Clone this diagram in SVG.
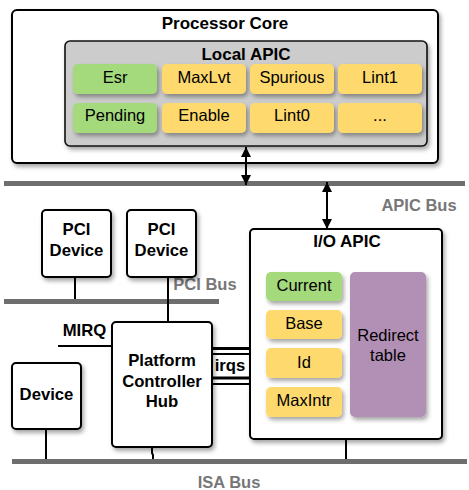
<svg xmlns="http://www.w3.org/2000/svg" width="469" height="490" viewBox="0 0 469 490">
<defs>
<filter id="sh" x="-20%" y="-20%" width="150%" height="150%">
<feDropShadow dx="2" dy="3" stdDeviation="2.2" flood-color="#000" flood-opacity="0.35"/>
</filter>
<marker id="ah" viewBox="0 0 10 10" refX="10" refY="5" markerWidth="10" markerHeight="10" markerUnits="userSpaceOnUse" orient="auto-start-reverse">
<path d="M0,0 L10,5 L0,10 z" fill="#000"/>
</marker>
</defs>
<style>
text{font-family:"Liberation Sans",Arial,sans-serif;text-anchor:middle;fill:#000}
.t{font-weight:bold;font-size:17px}
.b{font-weight:bold;font-size:16.7px}
.r{font-size:16.5px}
.g{font-weight:bold;font-size:16.5px;fill:#777}
.box{fill:#fff;stroke:#000;stroke-width:2;filter:url(#sh)}
.grn{fill:#a4d97b;filter:url(#sh)}
.yel{fill:#fdd96e;filter:url(#sh)}
.bus{fill:#6e6e6e}
.w{stroke:#000;stroke-width:2;fill:none}
</style>

<g id="buses">
<rect class="bus" x="4" y="181" width="461" height="5"/>
<rect class="bus" x="4" y="299" width="215" height="5"/>
<rect class="bus" x="12" y="459" width="455" height="5"/>
<text class="g" x="419" y="211">APIC Bus</text>
<text class="g" x="205" y="290">PCI Bus</text>
<text class="g" x="229" y="488">ISA Bus</text>
</g>

<g id="processor-core">
<rect class="box" x="12" y="10" width="426" height="153" rx="5"/>
<text class="t" x="225" y="29">Processor Core</text>
</g>

<g id="local-apic">
<rect x="65" y="41" width="362" height="105" rx="5" fill="#cccccc" stroke="#111" stroke-width="1.6" filter="url(#sh)"/>
<text class="t" x="246" y="60">Local APIC</text>
<rect class="grn" x="73" y="64" width="84" height="30" rx="5"/>
<rect class="yel" x="162" y="64" width="84" height="30" rx="5"/>
<rect class="yel" x="250" y="64" width="84" height="30" rx="5"/>
<rect class="yel" x="338" y="64" width="84" height="30" rx="5"/>
<rect class="grn" x="73" y="103" width="84" height="30" rx="5"/>
<rect class="yel" x="162" y="103" width="84" height="30" rx="5"/>
<rect class="yel" x="250" y="103" width="84" height="30" rx="5"/>
<rect class="yel" x="338" y="103" width="84" height="30" rx="5"/>
<text class="r" x="115" y="83">Esr</text>
<text class="r" x="204" y="83">MaxLvt</text>
<text class="r" x="292" y="83">Spurious</text>
<text class="r" x="380" y="83">Lint1</text>
<text class="r" x="115" y="121">Pending</text>
<text class="r" x="204" y="121">Enable</text>
<text class="r" x="292" y="121">Lint0</text>
<text class="r" x="380" y="121">...</text>
</g>

<g id="pci-device-1">
<rect class="box" x="42" y="210" width="69" height="67" rx="4"/>
<text class="b" x="76.5" y="235">PCI</text>
<text class="b" x="76.5" y="256">Device</text>
</g>

<g id="pci-device-2">
<rect class="box" x="127" y="210" width="69" height="67" rx="4"/>
<text class="b" x="161.5" y="235">PCI</text>
<text class="b" x="161.5" y="256">Device</text>
</g>

<g id="device">
<rect class="box" x="12" y="363" width="69" height="66" rx="4"/>
<text class="b" x="46.5" y="400">Device</text>
</g>

<g id="pch">
<rect class="box" x="112" y="322" width="100" height="125" rx="4"/>
<text class="b" x="162" y="366">Platform</text>
<text class="b" x="162" y="387">Controller</text>
<text class="b" x="162" y="407">Hub</text>
</g>

<g id="io-apic">
<rect class="box" x="250" y="229" width="192" height="210" rx="4"/>
<text class="t" x="347" y="247">I/O APIC</text>
<rect class="grn" x="266" y="272" width="76" height="29" rx="5"/>
<rect class="yel" x="266" y="310" width="76" height="29" rx="5"/>
<rect class="yel" x="266" y="348" width="76" height="30" rx="5"/>
<rect class="yel" x="266" y="387" width="76" height="30" rx="5"/>
<rect x="350" y="272" width="76" height="145" rx="5" fill="#b28fb4" filter="url(#sh)"/>
<text class="r" x="304" y="291">Current</text>
<text class="r" x="304" y="329">Base</text>
<text class="r" x="304" y="368">Id</text>
<text class="r" x="304" y="406">MaxIntr</text>
<text class="r" x="388" y="341">Redirect</text>
<text class="r" x="388" y="361">table</text>
</g>

<g id="connectors">
<line class="w" x1="246" y1="147" x2="246" y2="185" marker-start="url(#ah)" marker-end="url(#ah)"/>
<line class="w" x1="327" y1="182" x2="327" y2="229" marker-start="url(#ah)" marker-end="url(#ah)"/>
<line class="w" x1="75" y1="277" x2="75" y2="299"/>
<line class="w" x1="168" y1="277" x2="168" y2="322"/>
<line class="w" x1="46" y1="429" x2="46" y2="459"/>
<path class="w" d="M152,447 L152,453 L153,455 L153,459"/>
<line class="w" x1="346" y1="439" x2="346" y2="459"/>
<line class="w" x1="58" y1="346" x2="112" y2="346"/>
<text class="b" x="84.5" y="336">MIRQ</text>
<line stroke="#000" stroke-width="3" x1="212" y1="348.5" x2="250" y2="348.5"/>
<line stroke="#000" stroke-width="2" x1="212" y1="354" x2="250" y2="354"/>
<line stroke="#000" stroke-width="3" x1="212" y1="378" x2="250" y2="378"/>
<line stroke="#000" stroke-width="2" x1="212" y1="384" x2="250" y2="384"/>
<text class="b" x="230" y="371">irqs</text>
</g>
</svg>
